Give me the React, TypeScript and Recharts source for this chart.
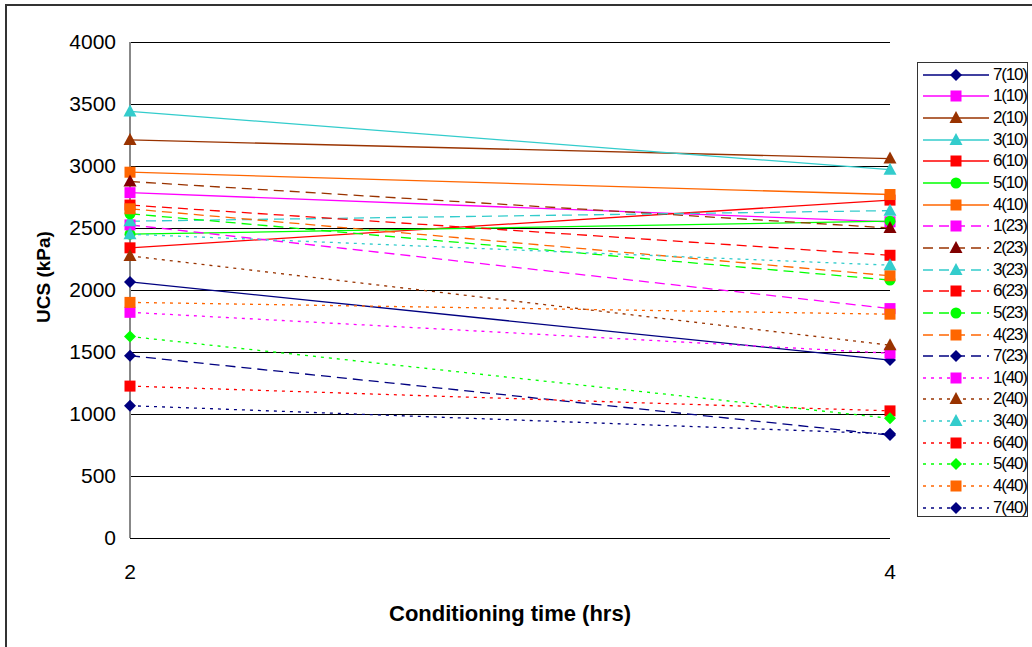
import { LineChart, Line, XAxis, YAxis, CartesianGrid, Legend } from "recharts";

const HOURS = [2, 4];
const SERIES = [
  "7(10)", "1(10)", "2(10)", "3(10)", "6(10)", "5(10)", "4(10)",
  "1(23)", "2(23)", "3(23)", "6(23)", "5(23)", "4(23)", "7(23)",
  "1(40)", "2(40)", "3(40)", "6(40)", "5(40)", "4(40)", "7(40)"
];
const UCS_2H = [
  2065, 2785, 3210, 3440, 2340, 2450, 2950,
  2525, 2875, 2555, 2685, 2615, 2655, 1470,
  1820, 2275, 2450, 1225, 1625, 1900, 1067
];
const UCS_4H = [
  1435, 2550, 3060, 2970, 2725, 2555, 2770,
  1850, 2500, 2640, 2280, 2080, 2115, 830,
  1490, 1555, 2200, 1025, 965, 1805, 840
];
const Y_TICKS = [0, 500, 1000, 1500, 2000, 2500, 3000, 3500, 4000];

const MIX_COLORS: Record<string, string> = {
  "1": "#FF00FF",
  "2": "#993300",
  "3": "#33CCCC",
  "4": "#FF6600",
  "5": "#00FF00",
  "6": "#FF0000",
  "7": "#000080"
};

const FONT = "Arial, 'Liberation Sans', sans-serif";

const data = HOURS.map((h, i) => {
  const row: any = { hours: h };
  SERIES.forEach((s, j) => {
    row["s" + j] = (i === 0 ? UCS_2H : UCS_4H)[j];
  });
  return row;
});

function styleOf(name: string) {
  const mix = name[0];
  const temp = name.slice(2, 4);
  let shape = "square";
  if (mix === "7") shape = "diamond";
  if (mix === "2" || mix === "3") shape = "triangle";
  if (mix === "5") shape = temp === "40" ? "diamond" : "circle";
  const color = MIX_COLORS[mix];
  const fill = name === "2(23)" ? "#800000" : color;
  const dash = temp === "23" ? "10 6" : temp === "40" ? "3 5" : undefined;
  return { shape, color, fill, dash };
}

function Marker({ cx, cy, shape, fill }: any) {
  if (cx == null || cy == null) return null;
  if (shape === "diamond")
    return <polygon points={`${cx},${cy - 6} ${cx + 6},${cy} ${cx},${cy + 6} ${cx - 6},${cy}`} fill={fill} />;
  if (shape === "triangle")
    return <polygon points={`${cx},${cy - 7} ${cx + 6.5},${cy + 5} ${cx - 6.5},${cy + 5}`} fill={fill} />;
  if (shape === "circle") return <circle cx={cx} cy={cy} r={5.5} fill={fill} />;
  return <rect x={cx - 5.5} y={cy - 5.5} width={11} height={11} fill={fill} />;
}

function LegendBox() {
  return (
    <div
      style={{
        width: 111,
        height: 455,
        border: "1px solid #333",
        boxSizing: "border-box",
        paddingTop: 1,
        background: "#fff",
        fontFamily: FONT
      }}
    >
      {SERIES.map((s) => {
        const st = styleOf(s);
        return (
          <div key={s} style={{ height: 21.65, display: "flex", alignItems: "center" }}>
            <svg width={72} height={20} style={{ marginLeft: 4 }}>
              <line x1={1} y1={10} x2={67} y2={10} stroke={st.color} strokeWidth={1.3} strokeDasharray={st.dash} />
              <Marker cx={34} cy={10} shape={st.shape} fill={st.fill} />
            </svg>
            <span style={{ fontSize: 17, letterSpacing: -1.2, marginLeft: -1, color: "#000" }}>{s}</span>
          </div>
        );
      })}
    </div>
  );
}

// y axis title, rotated, sits left of the tick labels
function YTitle() {
  return (
    <text
      x={43}
      y={277}
      transform="rotate(-90 43 277)"
      textAnchor="middle"
      dominantBaseline="central"
      fill="#000"
      fontSize={19}
      fontWeight="bold"
      fontFamily={FONT}
    >
      UCS (kPa)
    </text>
  );
}

export default function App() {
  return (
    <div style={{ position: "absolute", left: 0, top: 0, width: 1032, height: 647, overflow: "hidden", background: "#fff" }}>
      <style>{`
        .recharts-cartesian-grid-horizontal line,
        .recharts-cartesian-axis-line { shape-rendering: crispEdges; }
      `}</style>
      <div
        style={{
          position: "absolute",
          left: 5,
          top: 4,
          width: 1040,
          height: 660,
          border: "2px solid #333",
          boxSizing: "border-box"
        }}
      />
      <div style={{ position: "absolute", left: 0, top: 0 }}>
        <LineChart
          width={1032}
          height={647}
          data={data}
          margin={{ top: 42, right: 142, left: 0, bottom: 39 }}
          style={{ fontFamily: FONT }}
        >
          <CartesianGrid vertical={false} stroke="#000" strokeWidth={1} />
          <XAxis
            dataKey="hours"
            type="number"
            domain={[2, 4]}
            ticks={HOURS}
            height={70}
            axisLine={false}
            tickLine={false}
            tick={{ fill: "#000", fontSize: 21, dy: 18 }}
            label={{
              value: "Conditioning time (hrs)",
              position: "bottom",
              offset: -3,
              style: { fill: "#000", fontSize: 22, fontWeight: "bold" }
            }}
          />
          <YAxis
            type="number"
            domain={[0, 4000]}
            ticks={Y_TICKS}
            width={130}
            axisLine={{ stroke: "#888", strokeWidth: 1.5 }}
            tickLine={false}
            tickMargin={8}
            tick={{ fill: "#000", fontSize: 21 }}
            interval={0}
            label={<YTitle />}
          />
          <YAxis
            yAxisId="edge"
            orientation="right"
            width={0}
            domain={[0, 4000]}
            tick={false}
            tickLine={false}
            axisLine={{ stroke: "#999", strokeWidth: 1.5 }}
          />
          {SERIES.map((s, j) => {
            const st = styleOf(s);
            return (
              <Line
                key={s}
                dataKey={"s" + j}
                name={s}
                stroke={st.color}
                strokeWidth={1.3}
                strokeDasharray={st.dash}
                isAnimationActive={false}
                dot={(p: any) => <Marker key={s + "-" + p.index} cx={p.cx} cy={p.cy} shape={st.shape} fill={st.fill} />}
                activeDot={false}
              />
            );
          })}
          <Legend
            layout="horizontal"
            verticalAlign="middle"
            align="center"
            content={() => <LegendBox />}
            wrapperStyle={{ position: "absolute", left: 917, top: 62, width: 111, height: 455 }}
          />
        </LineChart>
      </div>
    </div>
  );
}
